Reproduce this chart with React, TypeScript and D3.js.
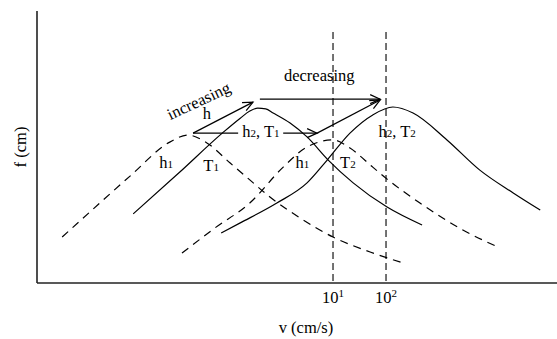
import React from 'react';
import * as d3 from 'd3';

// curve points: [log10 v, f]
const curveH1T1 = [[-4.11, 1.69], [-3.40, 2.94], [-2.83, 3.93], [-2.08, 5.18], [-1.74, 5.44], [-1.38, 5.15], [-0.94, 4.41], [-0.57, 3.79], [-0.19, 3.16], [0.38, 2.39], [1.00, 1.69], [1.70, 1.14], [2.32, 0.74]];
const curveH2T1 = [[-2.77, 2.54], [-1.89, 4.08], [-1.09, 5.51], [-0.75, 6.06], [-0.57, 6.32], [-0.42, 6.43], [-0.27, 6.40], [-0.13, 6.25], [0.19, 5.88], [0.51, 5.37], [0.91, 4.52], [1.38, 3.68], [2.02, 2.79], [2.68, 2.13]];
const curveH1T2 = [[-1.85, 1.10], [-1.23, 2.02], [-0.57, 2.94], [0.06, 4.26], [0.51, 5.00], [1.00, 5.26], [1.32, 4.96], [1.75, 4.26], [2.02, 3.82], [2.64, 2.94], [3.45, 1.95], [4.15, 1.29]];
const curveH2T2 = [[-1.11, 1.84], [-0.75, 2.21], [-0.06, 2.94], [0.51, 3.68], [0.89, 4.52], [1.32, 5.51], [1.75, 6.18], [2.13, 6.47], [2.51, 6.25], [3.15, 5.26], [3.77, 4.15], [4.40, 3.31], [4.91, 2.68]];

const xTicks = [1, 2];
const refLines = [1, 2];
const refTop = 9.23;

// arrows: [from, to]
const arrows = [
  [[-1.64, 5.51], [-0.51, 6.65]],
  [[-0.38, 6.76], [1.89, 6.76]],
  [[0.06, 5.51], [0.70, 5.51]],
  [[0.70, 5.51], [1.89, 6.73]],
];
const plainSegments = [[[-1.64, 5.51], [-0.79, 5.51]]];

const labels = [
  {t: 'h', sub: '1', lv: -2.15, f: 4.23},
  {t: 'T', sub: '1', lv: -1.30, f: 4.12},
  {t: 'h', sub: '1', lv: 0.42, f: 4.23},
  {t: 'T', sub: '2', lv: 1.28, f: 4.23},
  {t: 'h', sub: '2', rest: ', T', sub2: '1', lv: -0.36, f: 5.37},
  {t: 'h', sub: '2', rest: ', T', sub2: '2', lv: 2.21, f: 5.37},
  {t: 'h', lv: -1.38, f: 6.03},
  {t: 'decreasing', lv: 0.74, f: 7.43},
];

const font = "'Liberation Serif', 'DejaVu Serif', serif";
const ts = {fontFamily: font, fontSize: '16.5px'};

export default function App() {
  const W = 557, H = 339;
  const margin = {top: 11, right: 0, bottom: 56, left: 37};
  const width = W - margin.left - margin.right;
  const height = H - margin.top - margin.bottom;

  const x = d3.scaleLinear().domain([-4.585, 5.226]).range([margin.left, margin.left + width]);
  const y = d3.scaleLinear().domain([0, 10]).range([margin.top + height, margin.top]);

  const line = d3.line<number[]>().x(d => x(d[0])).y(d => y(d[1])).curve(d3.curveMonotoneX);

  const curves = [
    {d: curveH1T1, dash: '8,6'},
    {d: curveH2T1, dash: null},
    {d: curveH1T2, dash: '8,6'},
    {d: curveH2T2, dash: null},
  ];

  return (
    <svg width={W} height={H} style={{position: 'absolute', left: 0, top: 0, background: '#fff'}}>
      <defs>
        <marker id="head" markerUnits="userSpaceOnUse" markerWidth="14" markerHeight="14" refX="11" refY="7" orient="auto">
          <path d="M1,2.5 L11,7 L1,11.5" fill="none" stroke="#000" strokeWidth="1.2" />
        </marker>
      </defs>

      {refLines.map(v => (
        <line key={v} x1={x(v)} x2={x(v)} y1={y(refTop)} y2={y(0)} stroke="#000" strokeWidth={1.1} strokeDasharray="7,4" />
      ))}

      {curves.map((c, i) => (
        <path key={i} d={line(c.d) || ''} fill="none" stroke="#000" strokeWidth={1.2} strokeDasharray={c.dash || undefined} />
      ))}

      {plainSegments.map((s, i) => (
        <line key={i} x1={x(s[0][0])} y1={y(s[0][1])} x2={x(s[1][0])} y2={y(s[1][1])} stroke="#000" strokeWidth={1.2} />
      ))}
      {arrows.map((a, i) => (
        <line key={i} x1={x(a[0][0])} y1={y(a[0][1])} x2={x(a[1][0])} y2={y(a[1][1])} stroke="#000" strokeWidth={1.2} markerEnd="url(#head)" />
      ))}

      {/* axes */}
      <line x1={margin.left} x2={margin.left} y1={margin.top} y2={margin.top + height} stroke="#222" strokeWidth={1.6} />
      <line x1={margin.left} x2={margin.left + width} y1={margin.top + height} y2={margin.top + height} stroke="#222" strokeWidth={1.6} />

      {xTicks.map(t => (
        <text key={t} x={x(t)} y={margin.top + height + 20} textAnchor="middle" style={ts}>
          10<tspan style={{fontSize: '11px'}} dy={-6}>{t}</tspan>
        </text>
      ))}
      <text x={margin.left + width / 2 + 9} y={H - 6} textAnchor="middle" style={ts}>v (cm/s)</text>
      <text transform={`translate(26,${margin.top + height / 2}) rotate(-90)`} textAnchor="middle" style={ts}>f (cm)</text>

      <text transform={`translate(${x(-1.49)},${y(6.51)}) rotate(-25)`} textAnchor="middle" style={ts}>increasing</text>

      {labels.map((l, i) => (
        <text key={i} x={x(l.lv)} y={y(l.f)} textAnchor="middle" style={ts}>
          {l.t}
          {l.sub && <tspan style={{fontSize: '11px'}}>{l.sub}</tspan>}
          {l.rest && <tspan>{l.rest}</tspan>}
          {l.sub2 && <tspan style={{fontSize: '11px'}}>{l.sub2}</tspan>}
        </text>
      ))}
    </svg>
  );
}
